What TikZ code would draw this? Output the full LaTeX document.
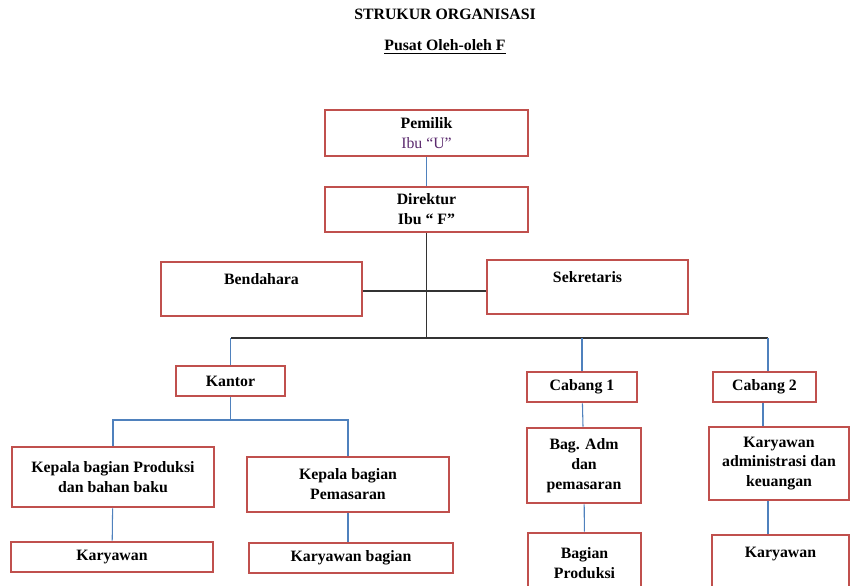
\documentclass[tikz,border=0pt]{standalone}
\usepackage{fontspec}
\setmainfont{Liberation Serif}
\definecolor{kotak}{HTML}{C0504D}
\definecolor{garis}{HTML}{4F81BD}
\definecolor{ungu}{HTML}{5B2A6E}
\begin{document}
\begin{tikzpicture}[x=0.02cm,y=-0.02cm,
            font=\fontsize{9}{11.3}\selectfont\bfseries,
            kotak/.style={draw=kotak,line width=1.5pt,align=center,inner sep=1pt},
            biru/.style={draw=garis,line width=.6pt},
            hitam/.style={draw=black!80,line width=.8pt},
            atas/.style={label={[anchor=north,yshift=-4pt]north:#1}}]
            \clip (0,0) rectangle (851,585);
            \path
            (445,14) node (judul) {STRUKUR ORGANISASI} % <<< judul
            (445,47) node (pusat) {\underline{Pusat Oleh-oleh F}}
            (426.5,133) node[kotak,minimum width=4.06cm,minimum height=.92cm] (pemilik) {Pemilik\\{\mdseries\color{ungu}Ibu “U”}} % <<< baris 1
            (426.5,209.5) node[kotak,minimum width=4.06cm,minimum height=.9cm] (direktur) {Direktur\\Ibu “ F”}
            (261.5,289) node[kotak,minimum width=4.02cm,minimum height=1.08cm,atas=Bendahara] (bendahara) {}
            (587.5,287) node[kotak,minimum width=4.02cm,minimum height=1.08cm,atas=Sekretaris] (sekretaris) {}
            (230.5,381) node[kotak,minimum width=2.18cm,minimum height=.6cm] (kantor) {Kantor} % <<< baris 2
            (582,387) node[kotak,minimum width=2.2cm,minimum height=.6cm] (cabang1) {Cabang 1}
            (764.5,387) node[kotak,minimum width=2.06cm,minimum height=.6cm] (cabang2) {Cabang 2}
            (113,477) node[kotak,minimum width=4.04cm,minimum height=1.2cm] (kproduksi) {Kepala bagian Produksi\\dan bahan baku} % <<< baris 3
            (348,484.5) node[kotak,minimum width=4.04cm,minimum height=1.1cm] (kpemasaran) {Kepala bagian\\Pemasaran}
            (584,465.5) node[kotak,minimum width=2.28cm,minimum height=1.5cm] (badm) {Bag. Adm\\dan\\pemasaran}
            (779,463.5) node[kotak,minimum width=2.8cm,minimum height=1.46cm] (kadm) {Karyawan\\administrasi dan\\keuangan}
            (112,557) node[kotak,minimum width=4.04cm,minimum height=.6cm] (karyawan1) {Karyawan} % <<< baris 4
            (351,558) node[kotak,minimum width=4.08cm,minimum height=.6cm] (karyawan2) {Karyawan bagian}
            (584.5,563) node[kotak,minimum width=2.26cm,minimum height=1.2cm] (bproduksi) {Bagian\\Produksi}
            (780.5,565) node[kotak,minimum width=2.74cm,minimum height=1.2cm,atas=Karyawan] (karyawan3) {};
            \coordinate (busL) at (231,338);
            \coordinate (busR) at (768,338);
            \coordinate (staf) at (426,291);
            \coordinate (cab) at (113,420);
            \coordinate (c2) at (763,0);
            \coordinate (k3) at (768,0);
            \begin{scope}[hitam]
                \draw (direktur.south)--(direktur.south|-busL);
                \draw (bendahara.east|-staf)--(sekretaris.west|-staf);
                \draw (busL)--(busR);
            \end{scope}
            \begin{scope}[biru]
                \draw (pemilik)--(direktur);
                \draw (kantor.north)--(kantor.north|-busL);
                \draw (cabang1.north)--(cabang1.north|-busL);
                \draw (busR)--(busR|-cabang2.north);
                \draw (kantor.south)--(kantor.south|-cab);
                \draw (kproduksi.north)|-(kantor.south|-cab)-|(kpemasaran.north);
                \draw (kproduksi)--(karyawan1);
                \draw (kpemasaran.south)--(kpemasaran.south|-karyawan2.north);
                \draw (cabang1)--(badm);
                \draw (badm)--(bproduksi);
                \draw (c2|-cabang2.south)--(c2|-kadm.north);
                \draw (k3|-kadm.south)--(k3|-karyawan3.north);
            \end{scope}
        \end{tikzpicture}
\end{document}
